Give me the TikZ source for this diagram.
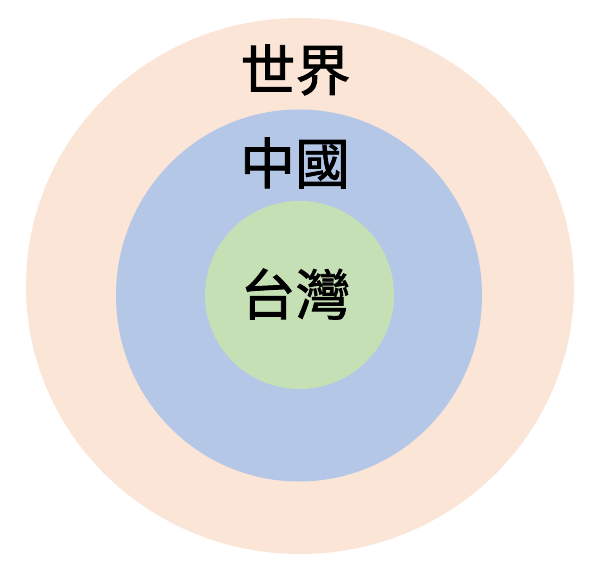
\documentclass[tikz,border=0pt]{standalone}
\usepackage{fontspec}
\newfontfamily\cjk[FakeBold=1.6]{Noto Sans CJK TC}
\definecolor{worldc}{HTML}{FBE5D6}
\definecolor{chinac}{HTML}{B4C7E7}
\definecolor{taiwanc}{HTML}{C5E0B4}
\begin{document}
\begin{tikzpicture}[x=1pt,y=-1pt,
  lbl/.style={font=\cjk\fontsize{55}{60}\selectfont, inner sep=0pt, text=black}]
\useasboundingbox[fill=white] (0,0) rectangle (600,569);
\fill[worldc] (300,286) ellipse [x radius=274, y radius=268];
\fill[chinac] (299,295.5) ellipse [x radius=183, y radius=186];
\fill[taiwanc] (299.5,295) ellipse [x radius=94.5, y radius=94];
\node[lbl] (world) at (295.5,70) {世界};
\node[lbl] (china) at (295,163) {中國};
\node[lbl] (taiwan) at (295.5,294) {台灣};
\end{tikzpicture}
\end{document}
